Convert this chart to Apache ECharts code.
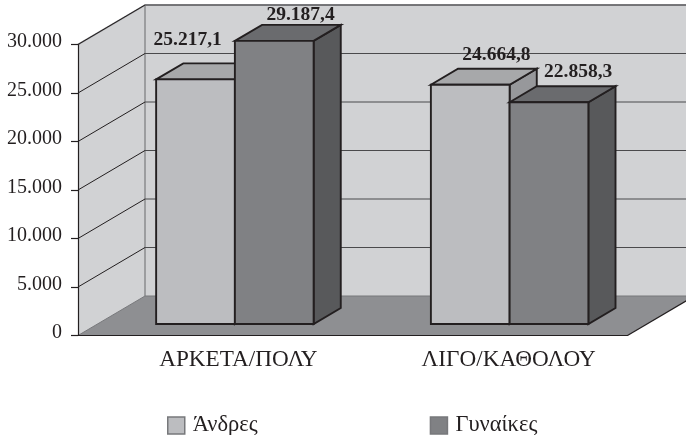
<!DOCTYPE html>
<html>
<head>
<meta charset="utf-8">
<style>html,body{margin:0;padding:0;background:#fff}#c{width:686px;height:435px}</style>
<script src="https://cdn.jsdelivr.net/npm/echarts@6/dist/echarts.min.js"></script>
</head>
<body>
<div id="c"></div>
<script>
const categories = ['ΑΡΚΕΤΑ/ΠΟΛΥ', 'ΛΙΓΟ/ΚΑΘΟΛΟΥ'];
const seriesNames = ['Άνδρες', 'Γυναίκες'];
const menValues = [25217.1, 24664.8];
const womenValues = [29187.4, 22858.3];
const yTicks = [5000, 10000, 15000, 20000, 25000, 30000];

const FONT = '"Liberation Serif","Times New Roman",serif';
const INK = '#231f20';
const DEPTH = { x: 67, y: 39.5 };
const BAR_FRONT = 11.5 / 39.5, BAR_BACK = 27.5 / 39.5, BAR_W = 0.2866;
const men = { front: '#bcbdc0', top: '#a7a8aa', side: '#97989b' };
const women = { front: '#808184', top: '#6a6b6e', side: '#58595b' };
const labelNudge = [[[31.5, -39], [65.5, -30]], [[65.7, -26], [68.5, -30]]];
const categoryPad = [46, 37];

const fmtTick = v => String(v).replace(/\B(?=(\d{3})+$)/g, '.');
const fmtValue = v => {
  const p = v.toFixed(1).split('.');
  return fmtTick(p[0]) + ',' + p[1];
};
const poly = (points, fill, stroke, lw, z2) => ({
  type: 'polygon', z2: z2 || 0, shape: { points },
  style: { fill: fill, stroke: stroke || null, lineWidth: lw || 0, lineJoin: 'miter' }
});
const line = (points, stroke, lw, z2) => ({
  type: 'polyline', z2: z2 || 0, shape: { points },
  style: { fill: null, stroke: stroke, lineWidth: lw }
});

function renderWalls(params, api) {
  const c = params.coordSys;
  const L = c.x, R = c.x + c.width, T = c.y, B = c.y + c.height;
  const dx = DEPTH.x, dy = DEPTH.y, edge = '#8a8b8e';
  return { type: 'group', children: [
    poly([[L + dx, T - dy], [R + dx, T - dy], [R + dx, B - dy], [L + dx, B - dy]], '#d1d2d4'),
    poly([[L, T], [L + dx, T - dy], [L + dx, B - dy], [L, B]], '#d1d2d4'),
    poly([[L, B], [L + dx, B - dy], [R + dx, B - dy], [R, B]], '#8e8f92'),
    line([[L, T], [L + dx, T - dy], [R + dx, T - dy]], edge, 1.5, 1),
    line([[L + dx, T - dy], [L + dx, B - dy]], edge, 1.5, 1),
    line([[L, B], [L + dx, B - dy]], '#77787b', 1, 1),
    line([[L + dx, B - dy], [R + dx, B - dy]], '#77787b', 1, 1),
    line([[R, B], [R + dx, B - dy]], INK, 1.2, 1)
  ] };
}

function renderGrid(params, api) {
  const c = params.coordSys;
  const y = api.coord([0, api.value(1)])[1];
  return { type: 'group', children: [
    line([[c.x, y], [c.x + DEPTH.x, y - DEPTH.y]], INK, 1),
    line([[c.x + DEPTH.x, y - DEPTH.y], [c.x + c.width + DEPTH.x, y - DEPTH.y]], '#4a4a4c', 1.2)
  ] };
}

const barRenderer = (sIdx, col) => (params, api) => {
  const i = api.value(0), v = api.value(1);
  const topPt = api.coord([i, v]), basePt = api.coord([i, 0]);
  const w = api.size([1, 0])[0] * BAR_W;
  const fx = DEPTH.x * BAR_FRONT, fy = DEPTH.y * BAR_FRONT;
  const bx = DEPTH.x * (BAR_BACK - BAR_FRONT), by = DEPTH.y * (BAR_BACK - BAR_FRONT);
  const x0 = topPt[0] + fx + (sIdx === 0 ? -w : 0), x1 = x0 + w;
  const yT = topPt[1] - fy, yB = basePt[1] - fy;
  const lw = 1.9;
  const n = labelNudge[sIdx][i];
  return { type: 'group', children: [
    poly([[x1, yT], [x1 + bx, yT - by], [x1 + bx, yB - by], [x1, yB]], col.side, INK, lw),
    poly([[x0, yT], [x0 + bx, yT - by], [x1 + bx, yT - by], [x1, yT]], col.top, INK, lw),
    poly([[x0, yT], [x1, yT], [x1, yB], [x0, yB]], col.front, INK, lw),
    { type: 'text', z2: 5, x: x0 + n[0], y: yT + n[1], style: {
      text: fmtValue(v), fill: INK, align: 'center', verticalAlign: 'middle',
      font: 'bold 19.5px ' + FONT } }
  ] };
};

const chart = echarts.init(document.getElementById('c'), null, { renderer: 'canvas' });
chart.setOption({
  animation: false,
  backgroundColor: '#fff',
  grid: { left: 78, right: 58.5, top: 44.5, bottom: 99.5, containLabel: false },
  legend: {
    left: 167, top: 414, itemWidth: 17, itemHeight: 17, itemGap: 172, padding: 0,
    textStyle: { fontFamily: FONT, fontSize: 22.5, color: INK, padding: [0, 0, 0, 3] },
    selectedMode: false,
    data: [
      { name: seriesNames[0], icon: 'rect', itemStyle: { color: men.front, borderColor: '#77787b', borderWidth: 1.5 } },
      { name: seriesNames[1], icon: 'rect', itemStyle: { color: women.front, borderColor: '#77787b', borderWidth: 1.5 } }
    ]
  },
  xAxis: {
    type: 'category', z: 5,
    data: categories.map((name, i) => ({ value: name, textStyle: { padding: [0, 0, 0, categoryPad[i]] } })),
    axisLine: { lineStyle: { color: INK, width: 1.2 } },
    axisTick: { alignWithLabel: false, length: 6, lineStyle: { color: INK, width: 1.2 } },
    axisLabel: { fontFamily: FONT, fontSize: 23.2, color: INK, margin: 13, interval: 0 }
  },
  yAxis: {
    type: 'value', min: 0, max: 30000, interval: 5000, z: 5,
    axisLine: { show: true, lineStyle: { color: INK, width: 1.2 } },
    axisTick: { show: true, length: 7, lineStyle: { color: INK, width: 1.2 } },
    splitLine: { show: false },
    axisLabel: { fontFamily: FONT, fontSize: 20, color: INK, margin: 16, verticalAlign: 'bottom', lineHeight: 5, formatter: fmtTick }
  },
  series: [
    { type: 'custom', name: 'walls', silent: true, z: 1, clip: false, renderItem: renderWalls, data: [[0, 30000]] },
    { type: 'custom', name: 'grid', silent: true, z: 2, clip: false, renderItem: renderGrid, data: yTicks.map(t => [0, t]) },
    { type: 'custom', name: seriesNames[0], z: 3, clip: false, renderItem: barRenderer(0, men), itemStyle: { color: men.front },
      data: menValues.map((v, i) => [i, v]) },
    { type: 'custom', name: seriesNames[1], z: 3, clip: false, renderItem: barRenderer(1, women), itemStyle: { color: women.front },
      data: womenValues.map((v, i) => [i, v]) }
  ]
});
</script>
</body>
</html>
